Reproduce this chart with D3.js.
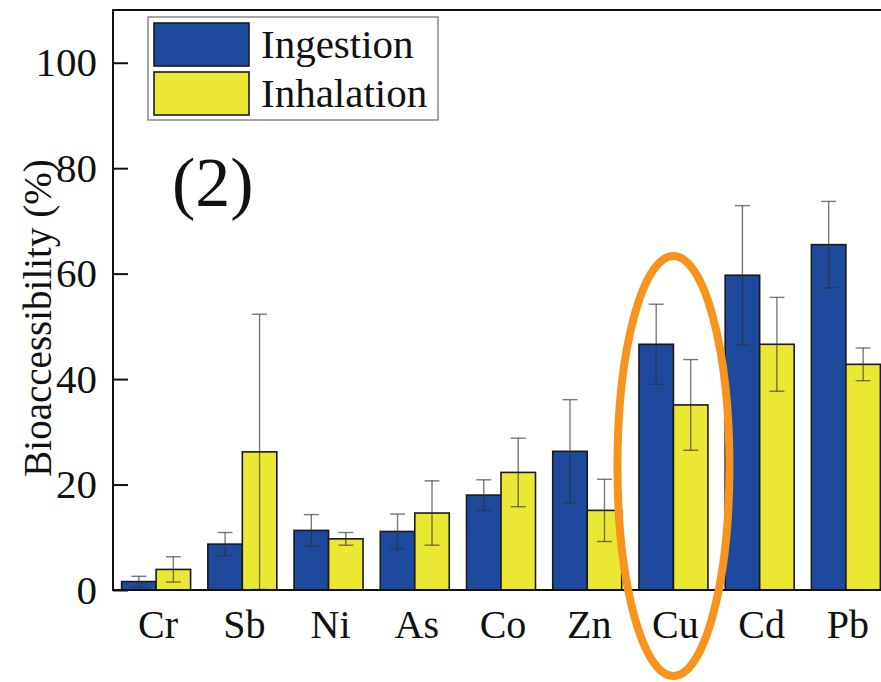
<!DOCTYPE html>
<html>
<head>
<meta charset="utf-8">
<script src="https://cdn.jsdelivr.net/npm/d3@7"></script>
<style>
  body { margin: 0; background: #fff; }
  svg { display: block; }
</style>
</head>
<body>
<div id="chart"></div>
<script>
// metals on the x axis
const metals = ['Cr', 'Sb', 'Ni', 'As', 'Co', 'Zn', 'Cu', 'Cd', 'Pb'];
const seriesNames = ['Ingestion', 'Inhalation'];
// bioaccessibility (%) and error (+/-)
const ingestion = [1.6, 8.7, 11.3, 11.1, 18.0, 26.3, 46.6, 59.7, 65.5];
const ingestionErr = [1.0, 2.2, 3.0, 3.3, 2.9, 9.8, 7.6, 13.2, 8.2];
const inhalation = [3.9, 26.2, 9.7, 14.6, 22.3, 15.1, 35.1, 46.6, 42.8];
const inhalationErr = [2.4, 26.1, 1.2, 6.1, 6.5, 5.9, 8.6, 8.9, 3.1];
const yTicks = [0, 20, 40, 60, 80, 100];

const width = 881, height = 682;
const plotLeft = 113, plotRight = 889, plotTop = 10, plotBottom = 590;
const colors = { Ingestion: '#1d4a9c', Inhalation: '#ebe833' };
const serif = '"Liberation Serif", monospace';

const svg = d3.select('#chart').append('svg')
    .attr('width', width)
    .attr('height', height)
    .style('font-family', serif);

const x = d3.scaleBand()
    .domain(metals)
    .range([plotLeft, plotRight])
    .paddingInner(0.2)
    .paddingOuter(0.1);

const xs = d3.scaleBand()
    .domain(seriesNames)
    .range([0, x.bandwidth()]);

const y = d3.scaleLinear()
    .domain([0, 110])
    .range([plotBottom, plotTop]);

// build rows for the bars
const rows = [];
metals.forEach((m, i) => {
    rows.push({ metal: m, series: 'Ingestion', value: ingestion[i], err: ingestionErr[i] });
    rows.push({ metal: m, series: 'Inhalation', value: inhalation[i], err: inhalationErr[i] });
});

// small inward ticks at group centres on the bottom axis
svg.append('g')
    .selectAll('line')
    .data(metals)
    .join('line')
    .attr('x1', d => x(d) + x.bandwidth() / 2)
    .attr('x2', d => x(d) + x.bandwidth() / 2)
    .attr('y1', plotBottom)
    .attr('y2', plotBottom - 8)
    .style('stroke', '#111')
    .style('stroke-width', 1.5);

// bars
svg.append('g')
    .selectAll('rect')
    .data(rows)
    .join('rect')
    .attr('x', d => x(d.metal) + xs(d.series))
    .attr('y', d => y(d.value))
    .attr('width', xs.bandwidth())
    .attr('height', d => y(0) - y(d.value))
    .style('fill', d => colors[d.series])
    .style('stroke', '#1a1a1a')
    .style('stroke-width', 1.6);

// error bars
const errG = svg.append('g')
    .style('stroke', '#333')
    .style('stroke-opacity', 0.65)
    .style('stroke-width', 1.4);

rows.forEach(d => {
    const cx = x(d.metal) + xs(d.series) + xs.bandwidth() / 2;
    const hi = y(d.value + d.err), lo = y(Math.max(0, d.value - d.err));
    errG.append('line').attr('x1', cx).attr('x2', cx).attr('y1', hi).attr('y2', lo);
    errG.append('line').attr('x1', cx - 7.5).attr('x2', cx + 7.5).attr('y1', hi).attr('y2', hi);
    errG.append('line').attr('x1', cx - 7.5).attr('x2', cx + 7.5).attr('y1', lo).attr('y2', lo);
});

// frame: left, top and bottom lines
svg.append('path')
    .attr('d', `M${width + 5},${plotTop}H${plotLeft}V${plotBottom}H${width + 5}`)
    .style('fill', 'none')
    .style('stroke', '#111')
    .style('stroke-width', 2);

// y axis with inward ticks
const yAxis = svg.append('g')
    .attr('transform', `translate(${plotLeft},0)`)
    .call(d3.axisLeft(y).tickValues(yTicks).tickSizeInner(-15).tickSizeOuter(0).tickPadding(16));
yAxis.attr('font-family', null).attr('font-size', null);
yAxis.select('.domain').remove();
yAxis.selectAll('line').style('stroke', '#111').style('stroke-width', 2);
yAxis.selectAll('text')
    .style('font-family', serif)
    .style('font-size', '41px')
    .style('fill', '#111');

// category labels
svg.append('g')
    .selectAll('text')
    .data(metals)
    .join('text')
    .attr('x', d => x(d) + x.bandwidth() / 2 + 2)
    .attr('y', 638)
    .attr('text-anchor', 'middle')
    .style('font-family', serif)
    .style('font-size', '40px')
    .style('fill', '#111')
    .text(d => d);

// y label
svg.append('text')
    .attr('transform', `translate(51,318) rotate(-90)`)
    .attr('text-anchor', 'middle')
    .style('font-family', serif)
    .style('font-size', '39px')
    .style('fill', '#111')
    .text('Bioaccessibility (%)');

// panel label
svg.append('text')
    .attr('x', 172)
    .attr('y', 206)
    .style('font-family', serif)
    .style('font-size', '70px')
    .style('fill', '#111')
    .text('(2)');

// legend
const legend = svg.append('g');
legend.append('rect')
    .attr('x', 148).attr('y', 17)
    .attr('width', 290).attr('height', 103)
    .style('fill', '#fff')
    .style('stroke', '#888')
    .style('stroke-width', 1.5);
seriesNames.forEach((s, i) => {
    legend.append('rect')
        .attr('x', 154).attr('y', 23 + i * 49)
        .attr('width', 95).attr('height', 43)
        .style('fill', colors[s])
        .style('stroke', '#1a1a1a')
        .style('stroke-width', 1.6);
    legend.append('text')
        .attr('x', 261).attr('y', 58 + i * 49)
        .style('font-family', serif)
        .style('font-size', '41px')
        .style('fill', '#111')
        .text(s);
});

// orange highlight around Cu
svg.append('ellipse')
    .attr('cx', x('Cu') + x.bandwidth() / 2)
    .attr('cy', 466)
    .attr('rx', 56)
    .attr('ry', 210)
    .style('fill', 'none')
    .style('stroke', '#f7941d')
    .style('stroke-width', 8);
</script>
</body>
</html>
